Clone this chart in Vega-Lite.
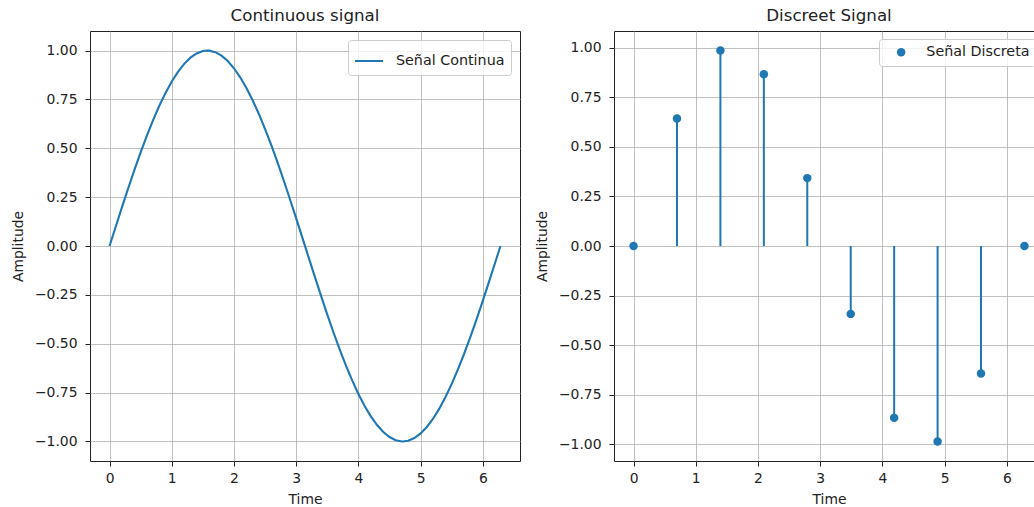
{
  "$schema": "https://vega.github.io/schema/vega-lite/v6.json",
  "background": "white",
  "padding": {"left": 10, "top": 7, "right": -10, "bottom": 0},
  "spacing": 13,
  "resolve": {"scale": {"color": "independent"}, "legend": {"color": "independent"}},
  "config": {
    "font": "DejaVu Sans",
    "view": {"stroke": "#222", "strokeWidth": 1},
    "axis": {
      "grid": true, "gridColor": "#b0b0b0", "gridWidth": 0.8,
      "domain": false,
      "tickColor": "#222", "tickSize": 5, "tickWidth": 1,
      "labelFont": "DejaVu Sans", "labelFontSize": 13.9, "labelColor": "#222",
      "titleFont": "DejaVu Sans", "titleFontSize": 13.9, "titleFontWeight": "normal", "titleColor": "#222"
    },
    "axisX": {"labelPadding": 5, "titlePadding": 8},
    "axisY": {"labelPadding": 8, "titlePadding": 9},
    "title": {"fontSize": 16.7, "fontWeight": "normal", "color": "#222", "offset": 6, "font": "DejaVu Sans"},
    "legend": {
      "orient": "top-right", "padding": 6,
      "fillColor": "rgba(255,255,255,0.8)", "strokeColor": "#cccccc", "cornerRadius": 3,
      "labelFont": "DejaVu Sans", "labelFontSize": 14.3, "labelColor": "#222"
    }
  },
  "datasets": {
    "continuous": [
      {"time": 0.0, "amplitude": 0.0}, {"time": 0.1, "amplitude": 0.0998}, {"time": 0.2, "amplitude": 0.1987},
      {"time": 0.3, "amplitude": 0.2955}, {"time": 0.4, "amplitude": 0.3894}, {"time": 0.5, "amplitude": 0.4794},
      {"time": 0.6, "amplitude": 0.5646}, {"time": 0.7, "amplitude": 0.6442}, {"time": 0.8, "amplitude": 0.7174},
      {"time": 0.9, "amplitude": 0.7833}, {"time": 1.0, "amplitude": 0.8415}, {"time": 1.1, "amplitude": 0.8912},
      {"time": 1.2, "amplitude": 0.932}, {"time": 1.3, "amplitude": 0.9636}, {"time": 1.4, "amplitude": 0.9854},
      {"time": 1.5, "amplitude": 0.9975}, {"time": 1.5708, "amplitude": 1.0}, {"time": 1.6, "amplitude": 0.9996},
      {"time": 1.7, "amplitude": 0.9917}, {"time": 1.8, "amplitude": 0.9738}, {"time": 1.9, "amplitude": 0.9463},
      {"time": 2.0, "amplitude": 0.9093}, {"time": 2.1, "amplitude": 0.8632}, {"time": 2.2, "amplitude": 0.8085},
      {"time": 2.3, "amplitude": 0.7457}, {"time": 2.4, "amplitude": 0.6755}, {"time": 2.5, "amplitude": 0.5985},
      {"time": 2.6, "amplitude": 0.5155}, {"time": 2.7, "amplitude": 0.4274}, {"time": 2.8, "amplitude": 0.335},
      {"time": 2.9, "amplitude": 0.2392}, {"time": 3.0, "amplitude": 0.1411}, {"time": 3.1, "amplitude": 0.0416},
      {"time": 3.2, "amplitude": -0.0584}, {"time": 3.3, "amplitude": -0.1577}, {"time": 3.4, "amplitude": -0.2555},
      {"time": 3.5, "amplitude": -0.3508}, {"time": 3.6, "amplitude": -0.4425}, {"time": 3.7, "amplitude": -0.5298},
      {"time": 3.8, "amplitude": -0.6119}, {"time": 3.9, "amplitude": -0.6878}, {"time": 4.0, "amplitude": -0.7568},
      {"time": 4.1, "amplitude": -0.8183}, {"time": 4.2, "amplitude": -0.8716}, {"time": 4.3, "amplitude": -0.9162},
      {"time": 4.4, "amplitude": -0.9516}, {"time": 4.5, "amplitude": -0.9775}, {"time": 4.6, "amplitude": -0.9937},
      {"time": 4.7, "amplitude": -0.9999}, {"time": 4.7124, "amplitude": -1.0}, {"time": 4.8, "amplitude": -0.9962},
      {"time": 4.9, "amplitude": -0.9825}, {"time": 5.0, "amplitude": -0.9589}, {"time": 5.1, "amplitude": -0.9258},
      {"time": 5.2, "amplitude": -0.8835}, {"time": 5.3, "amplitude": -0.8323}, {"time": 5.4, "amplitude": -0.7728},
      {"time": 5.5, "amplitude": -0.7055}, {"time": 5.6, "amplitude": -0.6313}, {"time": 5.7, "amplitude": -0.5507},
      {"time": 5.8, "amplitude": -0.4646}, {"time": 5.9, "amplitude": -0.3739}, {"time": 6.0, "amplitude": -0.2794},
      {"time": 6.1, "amplitude": -0.1822}, {"time": 6.2, "amplitude": -0.0831}, {"time": 6.2832, "amplitude": 0.0}
    ],
    "discrete": [
      {"time": 0.0, "amplitude": 0.0}, {"time": 0.6981, "amplitude": 0.6428}, {"time": 1.3963, "amplitude": 0.9848},
      {"time": 2.0944, "amplitude": 0.866}, {"time": 2.7925, "amplitude": 0.342}, {"time": 3.4907, "amplitude": -0.342},
      {"time": 4.1888, "amplitude": -0.866}, {"time": 4.8869, "amplitude": -0.9848}, {"time": 5.5851, "amplitude": -0.6428},
      {"time": 6.2832, "amplitude": 0.0}
    ]
  },
  "hconcat": [
    {
      "width": 430, "height": 430,
      "title": "Continuous signal",
      "data": {"name": "continuous"},
      "mark": {"type": "line", "strokeWidth": 2.1},
      "encoding": {
        "x": {"field": "time", "type": "quantitative",
              "scale": {"domain": [-0.3142, 6.5973], "nice": false, "zero": false},
              "axis": {"values": [0, 1, 2, 3, 4, 5, 6], "format": "d", "title": "Time"}},
        "y": {"field": "amplitude", "type": "quantitative",
              "scale": {"domain": [-1.1, 1.1], "nice": false, "zero": false},
              "axis": {"values": [-1, -0.75, -0.5, -0.25, 0, 0.25, 0.5, 0.75, 1], "format": ".2f", "title": "Amplitude"}},
        "color": {"datum": "Señal Continua", "type": "nominal",
                  "scale": {"range": ["#1f77b4"]},
                  "legend": {"title": null, "symbolType": "stroke", "symbolSize": 784, "symbolStrokeWidth": 2,
                             "offset": 9, "labelOffset": 12}}
      }
    },
    {
      "width": 430, "height": 430,
      "title": "Discreet Signal",
      "data": {"name": "discrete"},
      "encoding": {
        "x": {"field": "time", "type": "quantitative",
              "scale": {"domain": [-0.3142, 6.5973], "nice": false, "zero": false},
              "axis": {"values": [0, 1, 2, 3, 4, 5, 6], "format": "d", "title": "Time"}},
        "y": {"field": "amplitude", "type": "quantitative",
              "scale": {"domain": [-1.0833, 1.0833], "nice": false, "zero": false},
              "axis": {"values": [-1, -0.75, -0.5, -0.25, 0, 0.25, 0.5, 0.75, 1], "format": ".2f", "title": "Amplitude"}}
      },
      "layer": [
        {"mark": {"type": "rule", "strokeWidth": 2, "color": "#1f77b4"},
         "encoding": {"y2": {"datum": 0}}},
        {"mark": {"type": "point", "filled": true, "size": 72, "opacity": 1},
         "encoding": {
           "color": {"datum": "Señal Discreta", "type": "nominal",
                     "scale": {"range": ["#1f77b4"]},
                     "legend": {"title": null, "symbolType": "circle", "symbolSize": 72,
                                "symbolOffset": 9, "labelOffset": 18, "offset": 8}}
         }}
      ]
    }
  ]
}
